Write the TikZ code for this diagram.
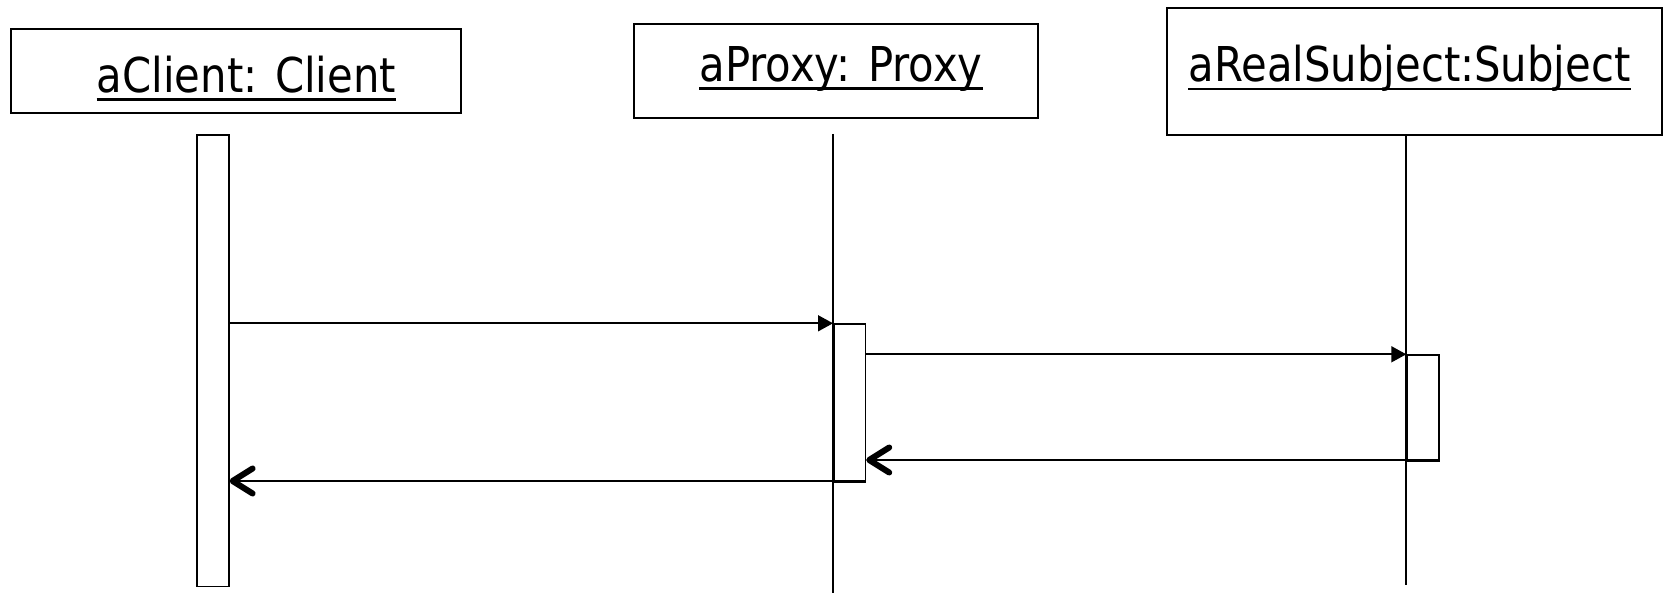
\documentclass[tikz,border=0pt]{standalone}
\usepackage{fontspec}
\newfontfamily\headfont[FakeStretch=0.87]{DejaVu Sans}
\usetikzlibrary{arrows.meta}

\begin{document}
\begin{tikzpicture}[x=1pt,y=-1pt,
  head/.style={draw,line width=2pt,rectangle,inner sep=0pt},
  lbl/.style={inner sep=0pt,anchor=base,font=\headfont\fontsize{48}{58}\selectfont},
  uline/.style={line width=2.6pt},
  bar/.style={draw,line width=1.7pt,fill=white,rectangle,inner sep=0pt,anchor=north west},
  life/.style={line width=1.7pt},
  call/.style={line width=1.6pt,-{Triangle[length=15pt,width=16pt]}},
  reply/.style={line width=1.6pt,-{Straight Barb[length=20pt,width=25pt,line width'=6pt,round]}}]

\useasboundingbox (0,0) rectangle (1663,593);

% object heads
\node[head,minimum width=450pt,minimum height=84pt] (hc) at (235.7,71) {};
\node[head,minimum width=404pt,minimum height=94pt] (hp) at (836,71) {};
\node[head,minimum width=495pt,minimum height=127pt] (hs) at (1414.5,71.7) {};

\node[lbl] (tc) at (246.5,92.3) {aClient: Client};
\node[lbl] (tp) at (841,81.3) {aProxy: Proxy};
\node[lbl] (ts) at (1409.5,82) {aRealSubject:Subject};

\foreach \t in {tc,tp,ts}
  \draw[uline] ([yshift=-7pt]\t.base west) -- ([yshift=-7pt]\t.base east);

% lifelines
\coordinate (pTop) at (833,134);
\coordinate (pBot) at (833,593);
\coordinate (sTop) at (1406.3,0 |- hs.south);
\coordinate (sBot) at (1406.3,585);
\draw[life] (pTop) -- (pBot);
\draw[life] (sTop) -- (sBot);

% message levels
\coordinate (m1) at (0,323.3);
\coordinate (m2) at (0,354.3);
\coordinate (r1) at (0,460);
\coordinate (r2) at (0,481);

% activation bars
\node[bar,minimum width=31.5pt,minimum height=451.5pt] (ac) at (196.4,134) {};
\node[bar,minimum width=31.5pt,minimum height=157.7pt,fill=none] (ap) at (833,323.3) {};
\node[bar,minimum width=31.5pt,minimum height=105.7pt,fill=none] (as) at (1406.3,354.3) {};

% messages
\draw[call] (ac.east |- m1) -- (pTop |- m1);
\draw[call] (ap.east |- m2) -- (sTop |- m2);
\draw[reply] (as.east |- r1) -- (ap.east |- r1);
\draw[reply] (ap.east |- r2) -- (ac.east |- r2);
\end{tikzpicture}
\end{document}
